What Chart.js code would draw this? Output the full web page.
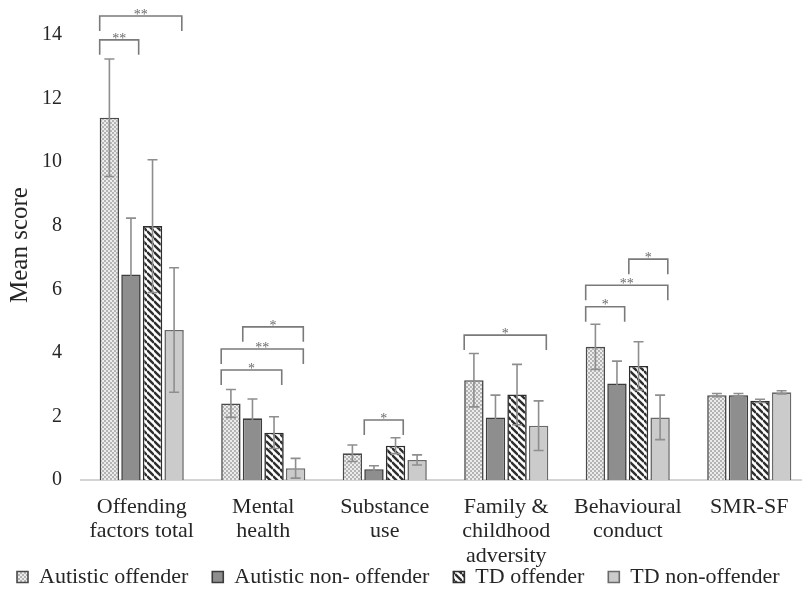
<!DOCTYPE html>
<html>
<head>
<meta charset="utf-8">
<script src="https://cdn.jsdelivr.net/npm/chart.js@4.4.0/dist/chart.umd.min.js"></script>
<style>
    html, body { margin: 0; padding: 0; background: #fff; overflow: hidden; }
    #wrap { width: 822px; height: 626px; }
</style>
</head>
<body>
<div id="wrap"><canvas id="chart"></canvas></div>
<script>
const categories = [
    ["Offending", "factors total"],
    ["Mental", "health"],
    ["Substance", "use"],
    ["Family &", "childhood", "adversity"],
    ["Behavioural", "conduct"],
    "SMR-SF",
];
const groupNames = ["Autistic offender", "Autistic non- offender", "TD offender", "TD non-offender"];

const autisticOffender = [11.4, 2.41, 0.84, 3.14, 4.19, 2.67];
const autisticOffenderSD = [1.85, 0.44, 0.26, 0.84, 0.71, 0.05];
const autisticNonOffender = [6.47, 1.94, 0.34, 1.97, 3.04, 2.67];
const autisticNonOffenderSD = [1.77, 0.61, 0.11, 0.7, 0.7, 0.05];
const tdOffender = [7.99, 1.49, 1.08, 2.69, 3.59, 2.49];
const tdOffenderSD = [2.09, 0.5, 0.25, 0.95, 0.76, 0.05];
const tdNonOffender = [4.72, 0.37, 0.63, 1.71, 1.97, 2.76];
const tdNonOffenderSD = [1.96, 0.31, 0.16, 0.78, 0.7, 0.05];

const yTicks = [0, 2, 4, 6, 8, 10, 12, 14];

// significance brackets: category, first group, last group, height, stars
const brackets = [
    [0, 0, 3, 14.6, "**"],
    [0, 0, 1, 13.85, "**"],
    [1, 1, 3, 4.82, "*"],
    [1, 0, 3, 4.12, "**"],
    [1, 0, 2, 3.46, "*"],
    [2, 1, 2, 1.89, "*"],
    [3, 0, 3, 4.56, "*"],
    [4, 0, 1, 5.45, "*"],
    [4, 0, 3, 6.13, "**"],
    [4, 2, 3, 6.95, "*"],
];

function makePattern(kind) {
    let c = document.createElement("canvas"),
        ctx = c.getContext("2d");
    if (kind === "check") {
        c.width = 4; c.height = 4;
        ctx.fillStyle = "#ececec";
        ctx.fillRect(0, 0, 4, 4);
        ctx.fillStyle = "#b4b4b4";
        ctx.fillRect(0, 0, 2, 2);
        ctx.fillRect(2, 2, 2, 2);
    } else {
        let s = 7;
        c.width = s; c.height = s;
        ctx.fillStyle = "#ffffff";
        ctx.fillRect(0, 0, s, s);
        ctx.strokeStyle = "#2e2e2e";
        ctx.lineWidth = 2.4;
        for (let k of [-s, 0, s]) {
            ctx.beginPath();
            ctx.moveTo(0, k);
            ctx.lineTo(s, s + k);
            ctx.stroke();
        }
    }
    return c.getContext("2d").createPattern(c, "repeat");
}

const sds = [autisticOffenderSD, autisticNonOffenderSD, tdOffenderSD, tdNonOffenderSD];

const extrasPlugin = {
    id: "extras",
    afterLayout(chart) {
        // pull the legend up under the axis labels, left-aligned like the original
        let legend = chart.legend;
        legend.top = chart.chartArea.bottom + 62;
        legend.bottom = legend.top + legend.height;
        legend.left = -7;
        legend.right = legend.left + legend.width;
    },
    afterDatasetsDraw(chart) {
        let ctx = chart.ctx,
            y = chart.scales.y;
        ctx.save();
        // error bars
        ctx.strokeStyle = "#8e8e8e";
        ctx.lineWidth = 1.6;
        for (let d = 0; d < chart.data.datasets.length; d++) {
            let meta = chart.getDatasetMeta(d),
                values = chart.data.datasets[d].data;
            for (let i = 0; i < values.length; i++) {
                let x = meta.data[i].x,
                    top = y.getPixelForValue(values[i] + sds[d][i]),
                    bottom = y.getPixelForValue(values[i] - sds[d][i]);
                ctx.beginPath();
                ctx.moveTo(x, bottom);
                ctx.lineTo(x, top);
                ctx.moveTo(x - 5, top);
                ctx.lineTo(x + 5, top);
                ctx.moveTo(x - 5, bottom);
                ctx.lineTo(x + 5, bottom);
                ctx.stroke();
            }
        }
        // brackets
        ctx.strokeStyle = "#7a7a7a";
        ctx.fillStyle = "#6a6a6a";
        ctx.lineWidth = 1.6;
        ctx.font = "14px 'Liberation Serif'";
        ctx.textAlign = "center";
        ctx.textBaseline = "bottom";
        for (let b of brackets) {
            let first = chart.getDatasetMeta(b[1]).data[b[0]],
                last = chart.getDatasetMeta(b[2]).data[b[0]],
                x1 = first.x - first.width / 2,
                x2 = last.x + last.width / 2 - 2,
                yy = y.getPixelForValue(b[3]);
            ctx.beginPath();
            ctx.moveTo(x1, yy + 15);
            ctx.lineTo(x1, yy);
            ctx.lineTo(x2, yy);
            ctx.lineTo(x2, yy + 15);
            ctx.stroke();
            ctx.fillText(b[4], (x1 + x2) / 2, yy + 6);
        }
        ctx.restore();
    },
};

let datasets = [
    { label: groupNames[0], data: autisticOffender, backgroundColor: makePattern("check"), borderColor: "#4a4a4a" },
    { label: groupNames[1], data: autisticNonOffender, backgroundColor: "#8e8e8e", borderColor: "#3c3c3c" },
    { label: groupNames[2], data: tdOffender, backgroundColor: makePattern("stripe"), borderColor: "#2e2e2e" },
    { label: groupNames[3], data: tdNonOffender, backgroundColor: "#cbcbcb", borderColor: "#6a6a6a" },
];
datasets.forEach(function (ds) {
    ds.borderWidth = 1.6;
    ds.barPercentage = 0.9;
    ds.categoryPercentage = 0.71;
});

Chart.defaults.font.family = "'Liberation Serif', 'Times New Roman', serif";
Chart.defaults.color = "#262626";

new Chart(document.getElementById("chart"), {
    type: "bar",
    data: { labels: categories, datasets: datasets },
    options: {
        responsive: true,
        maintainAspectRatio: false,
        animation: false,
        layout: { padding: { top: 10, left: 0, right: 0, bottom: 0 } },
        plugins: {
            tooltip: { enabled: false },
            legend: {
                position: "bottom",
                align: "start",
                labels: {
                    boxWidth: 11,
                    boxHeight: 11,
                    padding: 24,
                    font: { size: 22 },
                },
            },
        },
        scales: {
            x: {
                grid: { display: false },
                border: { display: true, color: "#d4d4d4", width: 2 },
                ticks: { font: { size: 22, lineHeight: 1.11 }, padding: 7, maxRotation: 0, autoSkip: false },
                afterFit: function (scale) {
                    scale.height = 90;
                    scale.paddingRight = 12;
                },
            },
            y: {
                min: 0,
                max: 14.79,
                grid: { display: false, drawTicks: false },
                border: { display: false },
                afterBuildTicks: function (axis) {
                    axis.ticks = yTicks.map(function (v) { return { value: v }; });
                },
                afterFit: function (scale) {
                    scale.width = 81;
                    scale.paddingTop = 0;
                    scale.paddingBottom = 0;
                },
                ticks: { font: { size: 20 }, padding: 19 },
                title: { display: true, text: "Mean score", font: { size: 25 }, padding: { top: 5, bottom: 0 } },
            },
        },
    },
    plugins: [extrasPlugin],
});
</script>
</body>
</html>
